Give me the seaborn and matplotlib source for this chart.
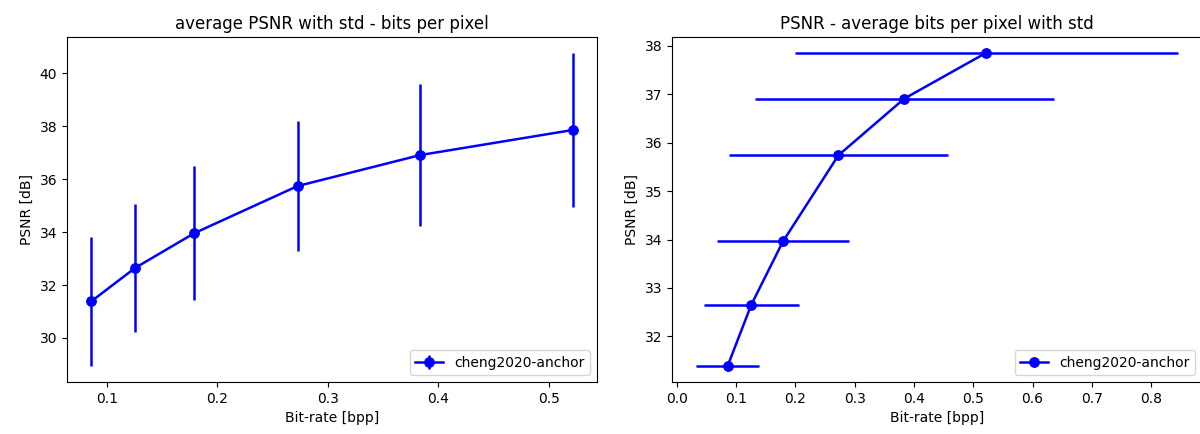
# PSNR vs bit-rate for cheng2020-anchor, with std error bars
import numpy as np
import matplotlib
matplotlib.use("Agg")
import matplotlib.pyplot as plt
import seaborn as sns
from matplotlib.legend_handler import HandlerTuple

# data
bpp = [0.0855, 0.1255, 0.179, 0.2725, 0.3835, 0.522]
bpp_std = [0.053, 0.080, 0.112, 0.184, 0.252, 0.323]
psnr = [31.38, 32.65, 33.96, 35.74, 36.91, 37.86]
psnr_std = [2.45, 2.43, 2.52, 2.45, 2.67, 2.92]
label = "cheng2020-anchor"

fig = plt.figure(figsize=(12, 4.34), dpi=100)
ax1 = fig.add_axes([67 / 1200, 52 / 434, 530 / 1200, 345 / 434])
ax2 = fig.add_axes([672 / 1200, 52 / 434, 530 / 1200, 345 / 434])

# left: psnr std as vertical bars
sns.lineplot(x=bpp, y=psnr, ax=ax1, color="blue", marker="o", markersize=7,
             markeredgecolor="blue", linewidth=1.8, legend=False)
eb1 = ax1.errorbar(bpp, psnr, yerr=psnr_std, fmt="none", ecolor="blue", elinewidth=1.8)
ax1.legend([(ax1.lines[0], eb1)], [label], loc="lower right",
           handler_map={tuple: HandlerTuple(ndivide=1)}, fontsize=10)
ax1.set_title("average PSNR with std - bits per pixel", fontsize=12)
ax1.set_xlabel("Bit-rate [bpp]")
ax1.set_ylabel("PSNR [dB]")
ax1.set_yticks([30, 32, 34, 36, 38, 40])

# right: bpp std as horizontal bars
sns.lineplot(x=bpp, y=psnr, ax=ax2, color="blue", marker="o", markersize=7,
             markeredgecolor="blue", linewidth=1.8, legend=False)
eb2 = ax2.errorbar(bpp, psnr, xerr=bpp_std, fmt="none", ecolor="blue", elinewidth=1.8)
ax2.legend([ax2.lines[0]], [label], loc="lower right", fontsize=10)
ax2.set_title("PSNR - average bits per pixel with std", fontsize=12)
ax2.set_xlabel("Bit-rate [bpp]")
ax2.set_ylabel("PSNR [dB]")
ax2.set_xticks(np.arange(0, 0.81, 0.1))

fig.savefig("out.png", dpi=100)
